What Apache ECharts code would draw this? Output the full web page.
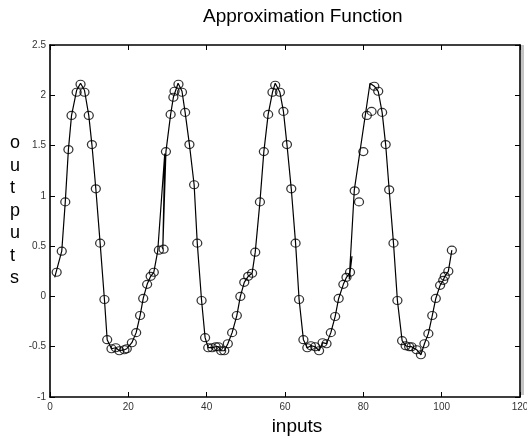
<!DOCTYPE html>
<html>
<head>
<meta charset="utf-8">
<script src="https://cdn.jsdelivr.net/npm/echarts@6/dist/echarts.min.js"></script>
<style>
  html, body { margin: 0; padding: 0; background: #fff; }
  #chart { width: 527px; height: 436px; }
</style>
</head>
<body>
<div id="chart"></div>
<script>
// Training samples (circles)
const sampleX = [
  1.7, 3.0, 3.9, 4.7, 5.5, 6.8, 7.8, 8.8, 9.9, 10.7, 11.7, 12.8, 13.9, 14.6, 15.7, 16.8, 17.7, 19.0, 19.6,
  20.9, 22.0, 23.0, 23.8, 24.8, 25.7, 26.5, 27.8, 29.0,
  29.6, 30.8, 31.5, 31.8, 32.8, 33.7, 34.5, 35.6, 36.8, 37.6, 38.7, 39.6, 40.4, 41.4, 42.3, 43.0, 43.7,
  44.5, 45.4, 46.5, 47.7, 48.6, 49.6, 50.6, 51.6, 52.4, 53.6,
  54.6, 55.7, 56.8, 57.5, 58.7, 59.6, 60.5, 61.6, 62.7, 63.6, 64.7, 65.7, 66.6, 67.7, 68.7, 69.6, 70.6,
  71.7, 72.8, 73.7, 74.9, 75.7, 76.6,
  77.8, 78.9, 80.0, 80.9, 82.1, 82.8, 83.8, 84.8, 85.7, 86.6, 87.7, 88.7, 89.9, 90.8, 91.7, 92.3, 93.6,
  94.7, 95.6, 96.6, 97.6, 98.5, 99.6, 100.4, 100.8, 101.7, 102.6
];
const sampleY = [
  0.24, 0.45, 0.94, 1.46, 1.80, 2.03, 2.11, 2.03, 1.80, 1.51, 1.07, 0.53, -0.03, -0.43, -0.52, -0.51, -0.54, -0.53, -0.52,
  -0.46, -0.36, -0.19, -0.02, 0.12, 0.20, 0.24, 0.46, 0.47,
  1.44, 1.81, 1.98, 2.04, 2.11, 2.03, 1.83, 1.51, 1.11, 0.53, -0.04, -0.41, -0.51, -0.51, -0.50, -0.50, -0.54,
  -0.54, -0.47, -0.36, -0.19, 0.00, 0.14, 0.20, 0.23, 0.44, 0.94,
  1.44, 1.81, 2.03, 2.10, 2.03, 1.84, 1.51, 1.07, 0.53, -0.03, -0.43, -0.51, -0.49, -0.50, -0.54, -0.46, -0.47,
  -0.36, -0.20, -0.02, 0.12, 0.19, 0.24,
  1.05, 0.94, 1.44, 1.80, 1.84, 2.09, 2.04, 1.83, 1.51, 1.06, 0.53, -0.04, -0.44, -0.49, -0.50, -0.50, -0.53,
  -0.58, -0.47, -0.37, -0.19, -0.02, 0.11, 0.16, 0.20, 0.25, 0.46
];

// Network output, in evaluation order (inputs are not strictly increasing)
const fitX = [
  1.2, 3.0, 3.9, 4.7, 5.5, 6.8, 7.8, 8.8, 9.9, 10.7, 11.7, 12.8, 13.9, 14.6, 15.7, 16.8, 17.7, 19.0, 19.6,
  20.9, 22.0, 23.0, 23.8, 24.8, 25.7, 26.5, 27.5, 29.3, 28.8, 29.6, 30.8, 31.5, 32.7, 33.7, 34.5, 35.6,
  36.8, 37.6, 38.7, 39.6, 40.4, 41.4, 42.3, 43.0, 43.7, 44.5, 45.4, 46.5, 47.7, 48.6, 49.6, 50.6, 51.6,
  52.4, 53.6, 54.6, 55.7, 56.8, 57.5, 58.7, 59.6, 60.5, 61.6, 62.7, 63.6, 64.7, 65.7, 66.6, 67.7, 68.7,
  69.6, 70.6, 71.7, 72.8, 73.7, 74.9, 75.7, 76.6, 77.1, 76.4, 77.7, 81.7, 82.8, 83.8, 84.8, 85.7, 86.6,
  87.7, 88.7, 89.9, 90.8, 91.7, 92.3, 93.6, 94.7, 95.6, 96.6, 97.6, 98.5, 99.6, 100.4, 100.8, 101.7, 102.6
];
const fitY = [
  0.19, 0.45, 0.94, 1.46, 1.80, 2.05, 2.12, 2.05, 1.80, 1.51, 1.07, 0.53, -0.03, -0.43, -0.52, -0.51, -0.54, -0.53, -0.52,
  -0.46, -0.36, -0.19, -0.02, 0.12, 0.20, 0.24, 0.45, 1.42, 0.47, 1.44, 1.81, 1.98, 2.12, 2.04, 1.83, 1.51,
  1.11, 0.53, -0.04, -0.41, -0.51, -0.51, -0.50, -0.50, -0.54, -0.54, -0.47, -0.36, -0.19, 0.00, 0.14, 0.20, 0.23,
  0.44, 0.94, 1.44, 1.81, 2.03, 2.12, 2.03, 1.84, 1.51, 1.07, 0.53, -0.03, -0.43, -0.51, -0.49, -0.50, -0.54,
  -0.46, -0.47, -0.36, -0.20, -0.02, 0.12, 0.19, 0.24, 0.40, 0.17, 1.06, 2.12, 2.09, 2.04, 1.83, 1.51, 1.06,
  0.53, -0.04, -0.44, -0.49, -0.50, -0.50, -0.53, -0.58, -0.47, -0.37, -0.19, -0.02, 0.11, 0.16, 0.20, 0.25, 0.46
];

// Axis ticks
const xTicks = [0, 20, 40, 60, 80, 100, 120];
const yTicks = [-1, -0.5, 0, 0.5, 1, 1.5, 2, 2.5];

const FONT = "'Liberation Sans', Arial, sans-serif";

const zip = (xs, ys) => xs.map((x, i) => [x, ys[i]]);

const frameAxis = (extra) => Object.assign({
  type: 'value',
  splitLine: { show: false },
  axisLine: { show: true, onZero: false, lineStyle: { color: '#000', width: 1.6 } },
  axisTick: { show: true, inside: true, length: 5, lineStyle: { color: '#000', width: 1 } }
}, extra);

const xRange = { min: xTicks[0], max: xTicks[xTicks.length - 1], interval: xTicks[1] - xTicks[0] };
const yRange = { min: yTicks[0], max: yTicks[yTicks.length - 1], interval: yTicks[1] - yTicks[0] };

const chart = echarts.init(document.getElementById('chart'), null, { renderer: 'canvas' });

chart.setOption({
  animation: false,
  backgroundColor: '#fff',
  title: {
    text: 'Approximation Function',
    left: 203,
    top: 7,
    padding: 0,
    textStyle: { fontFamily: FONT, fontSize: 19, fontWeight: 'normal', color: '#000' }
  },
  grid: { left: 50, right: 7, top: 45, bottom: 39, containLabel: false, outerBoundsMode: 'none' },
  xAxis: [
    frameAxis(Object.assign({
      position: 'bottom',
      name: 'inputs',
      nameLocation: 'middle',
      nameGap: 20,
      nameTextStyle: { fontFamily: FONT, fontSize: 19, color: '#000', padding: [0, 0, 0, 24] },
      axisLabel: { show: true, margin: 5, fontFamily: FONT, fontSize: 10, color: '#333' }
    }, xRange)),
    frameAxis(Object.assign({
      position: 'top',
      axisLabel: { show: false }
    }, xRange))
  ],
  yAxis: [
    frameAxis(Object.assign({
      position: 'left',
      axisLabel: { show: true, margin: 4, fontFamily: FONT, fontSize: 10, color: '#333' }
    }, yRange)),
    frameAxis(Object.assign({
      position: 'right',
      axisLabel: { show: false }
    }, yRange))
  ],
  graphic: [
    {
      // y-axis title, one letter per line
      type: 'text',
      left: 10,
      top: 132,
      style: {
        text: 'outputs'.split('').join('\n'),
        font: "18px 'Liberation Sans', Arial, sans-serif",
        fill: '#000',
        align: 'center',
        lineHeight: 22.5,
        width: 18
      }
    },
    {
      type: 'rect',
      right: 3,
      top: 45,
      z: -1,
      shape: { width: 3, height: 350 },
      style: { fill: '#c4c4c4' }
    }
  ],
  series: [
    {
      name: 'samples',
      type: 'scatter',
      xAxisIndex: 0,
      yAxisIndex: 0,
      data: zip(sampleX, sampleY),
      symbol: 'circle',
      symbolSize: [9, 8],
      itemStyle: { color: 'rgba(0,0,0,0)', borderColor: '#000', borderWidth: 1.2 },
      emphasis: { disabled: true },
      z: 3
    },
    {
      name: 'approximation',
      type: 'line',
      xAxisIndex: 0,
      yAxisIndex: 0,
      data: zip(fitX, fitY),
      showSymbol: false,
      lineStyle: { color: '#000', width: 1.2 },
      emphasis: { disabled: true },
      z: 4
    }
  ]
});
</script>
</body>
</html>
